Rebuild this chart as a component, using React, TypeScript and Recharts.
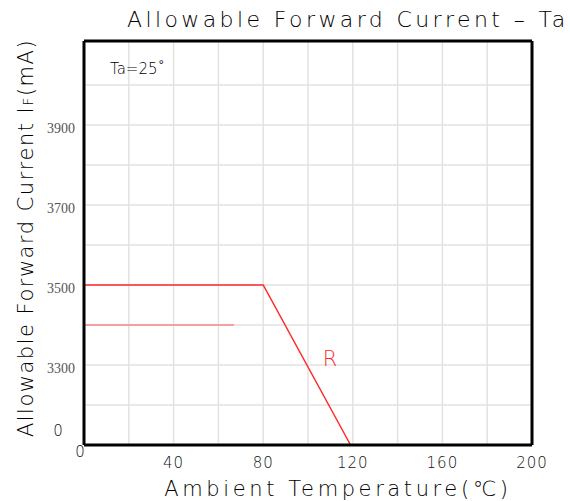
import React from "react";
import {
  LineChart,
  Line,
  XAxis,
  YAxis,
  CartesianGrid,
  ReferenceLine,
} from "recharts";

// derating curve, Ta (°C) vs IF (mA)
const ratedCurve = [
  { ta: 0, current: 3500 },
  { ta: 80, current: 3500 },
  { ta: 119, current: 3100 },
];
const lowerCurve = [
  { ta: 0, current: 3400 },
  { ta: 67, current: 3400 },
];

const xTicks = [0, 20, 40, 60, 80, 100, 120, 140, 160, 180, 200];
const xLabels = [40, 80, 120, 160, 200];
const yTicks = [3200, 3300, 3400, 3500, 3600, 3700, 3800, 3900, 4000];
const yLabels = [3300, 3500, 3700, 3900];

const cadFont = "'DejaVu Sans', sans-serif";

const XTick = ({ x, y, payload }: any) => {
  if (payload.value === 0) {
    return (
      <text x={x - 4} y={y + 7} textAnchor="middle" dominantBaseline="middle"
        fontFamily={cadFont} fontWeight={200} fontSize={15} fill="#111">0</text>
    );
  }
  if (!xLabels.includes(payload.value)) return <g />;
  return (
    <text x={x} y={y + 18} textAnchor="middle" dominantBaseline="middle"
      fontFamily={cadFont} fontWeight={200} fontSize={15} letterSpacing={1} fill="#111">
      {payload.value}
    </text>
  );
};

const YTick = ({ x, y, payload }: any) => {
  if (!yLabels.includes(payload.value)) return <g />;
  return (
    <text x={x - 9} y={y + 5} textAnchor="end" dominantBaseline="middle"
      fontFamily="'Liberation Serif', serif" fontSize={14} fill="#555">
      {payload.value}
    </text>
  );
};

export default function App() {
  return (
    <div style={{ position: "absolute", left: 0, top: 0, width: 570, height: 501, background: "#fff" }}>
      <LineChart width={570} height={501} data={ratedCurve}
        margin={{ top: 41, right: 38, bottom: 0, left: 0 }}>
        <CartesianGrid stroke="#e2e2e2" strokeWidth={1.5} />
        <XAxis type="number" dataKey="ta" domain={[0, 200]} ticks={xTicks}
          height={56} tickLine={false} tickSize={0} tickMargin={0}
          axisLine={{ stroke: "#000", strokeWidth: 3 }} tick={<XTick />} interval={0} />
        <YAxis type="number" domain={[3100, 4110]} ticks={yTicks} width={84}
          tickLine={false} tickSize={0} tickMargin={0}
          axisLine={{ stroke: "#000", strokeWidth: 3 }} tick={<YTick />} interval={0} />
        <ReferenceLine y={4110} stroke="#000" strokeWidth={3} />
        <ReferenceLine x={200} stroke="#000" strokeWidth={3} />
        <Line data={lowerCurve} dataKey="current" stroke="#f3a0a0" strokeWidth={2}
          dot={false} isAnimationActive={false} />
        <Line data={ratedCurve} dataKey="current" stroke="#ff2a2a" strokeWidth={1.5}
          dot={false} isAnimationActive={false} />
      </LineChart>
      <svg width={570} height={501} style={{ position: "absolute", left: 0, top: 0, pointerEvents: "none" }}>
        <text x={127} y={27} fontFamily={cadFont} fontWeight={200} fontSize={22}
          letterSpacing={3.4} fill="#000">Allowable Forward Current – Ta</text>
        <text x={338} y={496} textAnchor="middle" fontFamily={cadFont} fontWeight={200}
          fontSize={21} letterSpacing={3.6} fill="#000">Ambient Temperature(℃)</text>
        <text transform="translate(33,238) rotate(-90)" textAnchor="middle"
          fontFamily={cadFont} fontWeight={200} fontSize={21} letterSpacing={1.5} fill="#000">
          Allowable Forward Current I<tspan fontSize={14}>F</tspan>(mA)
        </text>
        <text x={110} y={74} fontFamily={cadFont} fontWeight={200} fontSize={15} fill="#000">Ta=25˚</text>
        <text x={58} y={436} textAnchor="middle" fontFamily={cadFont} fontWeight={200}
          fontSize={15} fill="#111">0</text>
        <text x={330} y={366} textAnchor="middle" fontFamily={cadFont} fontWeight={200}
          fontSize={21} fill="#ff2a2a">R</text>
      </svg>
    </div>
  );
}
